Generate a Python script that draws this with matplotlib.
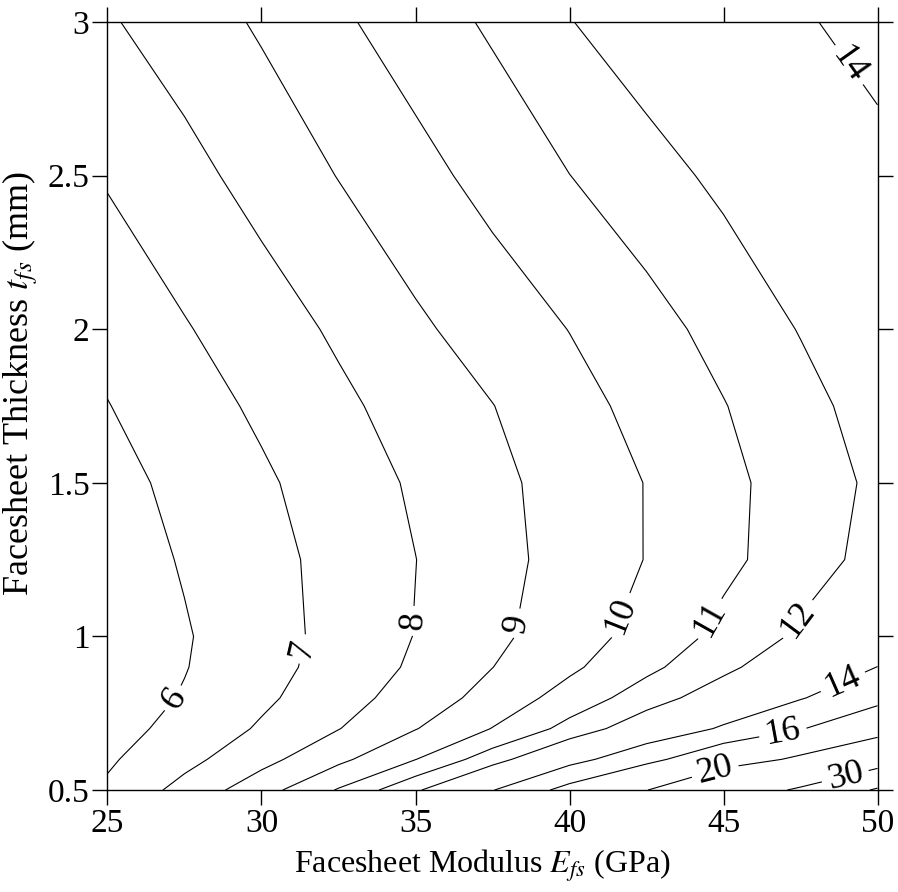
import numpy as np
import matplotlib.pyplot as plt

plt.rcParams['font.family'] = ['Liberation Serif', 'DejaVu Serif']
plt.rcParams['mathtext.fontset'] = 'stix'

# grid (facesheet modulus in GPa, facesheet thickness in mm)
modulus = [25, 27.5, 30, 32.5, 35, 37.5, 40, 42.5, 45, 47.5, 50]
thickness = [0.5, 0.6, 0.7, 0.8, 0.9, 1.0, 1.25, 1.5, 1.75, 2.0, 2.5, 3.0]

# contour values, one row per thickness
t050 = [6.15, 7.33, 8.59, 10.08, 11.83, 13.93, 16.7, 19.9, 25.2, 31.0, 41.0]
t060 = [5.87, 6.71, 7.69, 8.77, 9.98, 11.55, 13.35, 15.3, 17.95, 20.66, 25.4]
t070 = [5.65, 6.29, 7.12, 7.97, 8.96, 10.03, 11.32, 12.75, 14.2, 15.88, 17.85]
t080 = [5.5, 6.07, 6.81, 7.60, 8.44, 9.36, 10.41, 11.49, 12.64, 13.89, 15.37]
t090 = [5.38, 5.96, 6.65, 7.38, 8.15, 8.99, 9.82, 10.77, 11.74, 12.86, 14.02]
t100 = [5.3, 5.92, 6.60, 7.30, 8.03, 8.78, 9.54, 10.36, 11.27, 12.18, 13.1]
t125 = [5.48, 6.08, 6.68, 7.31, 7.99, 8.68, 9.36, 10.03, 10.76, 11.53, 12.35]
t150 = [5.67, 6.26, 6.85, 7.48, 8.13, 8.76, 9.39, 10.03, 10.75, 11.45, 12.2]
t175 = [5.97, 6.57, 7.17, 7.80, 8.40, 8.98, 9.65, 10.31, 10.96, 11.67, 12.44]
t200 = [6.30, 6.93, 7.53, 8.15, 8.83, 9.44, 10.02, 10.64, 11.32, 12.05, 12.8]
t250 = [7.09, 7.70, 8.35, 9.03, 9.68, 10.33, 10.99, 11.60, 12.23, 12.91, 13.59]
t300 = [7.9, 8.48, 9.13, 9.84, 10.49, 11.15, 11.96, 12.6, 13.22, 13.85, 14.48]

levels = [6, 7, 8, 9, 10, 11, 12, 14, 16, 20, 30, 40]
label_levels = [6, 7, 8, 9, 10, 11, 12, 14, 16, 20, 30]
# where the labels sit
label_pos = [(27.25, 0.79), (31.3, 0.96), (35.04, 1.05), (38.45, 1.04),
             (41.89, 1.06), (44.69, 1.05), (47.5, 1.05), (48.93, 0.84),
             (48.93, 2.85), (46.94, 0.68), (44.72, 0.565), (48.94, 0.55)]

Z = np.array([t050, t060, t070, t080, t090, t100, t125, t150, t175, t200, t250, t300])
X, Y = np.meshgrid(modulus, thickness)

fig = plt.figure(figsize=(8.98, 8.92), dpi=100)
ax = fig.add_axes([0.1197, 0.1143, 0.8575, 0.861])

cs = ax.contour(X, Y, Z, levels=levels, colors='black', linewidths=0.8)
ax.clabel(cs, levels=label_levels, manual=label_pos, inline=True,
          fontsize=26, fmt='%d', inline_spacing=6)

ax.set_xlim(25, 50)
ax.set_ylim(0.5, 3)
ax.set_xticks([25, 30, 35, 40, 45, 50])
ax.set_yticks([0.5, 1, 1.5, 2, 2.5, 3])
ax.set_yticklabels(['0.5', '1', '1.5', '2', '2.5', '3'])
ax.tick_params(direction='out', length=11, width=1, top=True, right=True,
               labelsize=24, pad=2)
for s in ax.spines.values():
    s.set_linewidth(1)

ax.set_xlabel('Facesheet Modulus $E_{fs}$ (GPa)', fontsize=23)
ax.set_ylabel('Facesheet Thickness $t_{fs}$ (mm)', fontsize=26)
ax.xaxis.set_label_coords(0.487, -0.075)
ax.yaxis.set_label_coords(-0.087, 0.53)

fig.savefig('out.png', dpi=100)
